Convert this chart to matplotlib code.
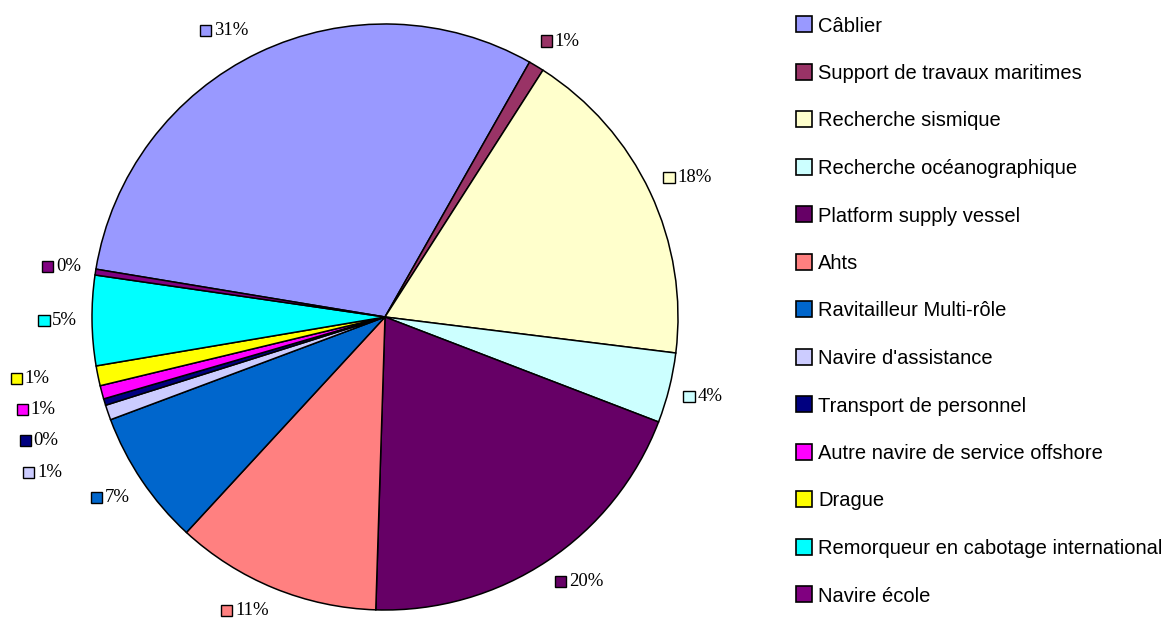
import numpy as np
import matplotlib
matplotlib.use("Agg")
import matplotlib.pyplot as plt
from matplotlib.patches import Rectangle
from matplotlib.offsetbox import DrawingArea, TextArea, HPacker, AnnotationBbox

categories = [
    "Câblier",
    "Support de travaux maritimes",
    "Recherche sismique",
    "Recherche océanographique",
    "Platform supply vessel",
    "Ahts",
    "Ravitailleur Multi-rôle",
    "Navire d'assistance",
    "Transport de personnel",
    "Autre navire de service offshore",
    "Drague",
    "Remorqueur en cabotage international",
    "Navire école",
]
shares = [30.6, 0.85, 17.9, 3.87, 19.67, 11.35, 7.45, 0.83, 0.36, 0.74, 1.10, 4.96, 0.32]
colors = ["#9999FF", "#993366", "#FFFFCC", "#CCFFFF", "#660066", "#FF8080",
          "#0066CC", "#CCCCFF", "#000080", "#FF00FF", "#FFFF00", "#00FFFF", "#800080"]

W, H = 1166, 618
fig = plt.figure(figsize=(W / 100, H / 100), dpi=100)
ax = fig.add_axes([0, 0, 1, 1])

CX, CY, R = 385, H - 317, 293
start = 170.6
wedges, _ = ax.pie(shares, colors=colors, startangle=start, counterclock=False,
                   center=(CX, CY), radius=R,
                   wedgeprops=dict(edgecolor="black", linewidth=1.1))
ax.set_xlim(0, W)
ax.set_ylim(0, H)
ax.set_aspect("equal")
ax.axis("off")

# percentage labels
total = sum(shares)
nudge = {0: (-4, 0), 1: (-3, 4), 7: (-32, -48), 8: (-32, -28), 9: (-32, -8), 10: (-34, 5)}
for i, w in enumerate(wedges):
    mid = np.deg2rad((w.theta1 + w.theta2) / 2)
    px = CX + 1.05 * R * np.cos(mid)
    py = CY + 1.05 * R * np.sin(mid)
    c, s = np.cos(mid), np.sin(mid)
    bx = 0.0 if c > 0 else 1.0
    by = 0.5 - 0.5 * np.clip(s / 0.4, -1, 1)
    if i in nudge:
        px += nudge[i][0]
        py += nudge[i][1]
    da = DrawingArea(8, 8, 0, 0)
    da.add_artist(Rectangle((0, 0), 8, 8, facecolor=colors[i], edgecolor="black", linewidth=1.0))
    ta = TextArea(f"{round(shares[i] / total * 100):.0f}%",
                  textprops=dict(family=["Liberation Serif", "DejaVu Serif"], fontsize=13.5, color="black"))
    box = HPacker(children=[da, ta], align="center", pad=0, sep=2)
    ab = AnnotationBbox(box, (px, py), xycoords="data", box_alignment=(bx, by),
                        frameon=False, pad=0, annotation_clip=False)
    ax.add_artist(ab)

# legend
LX, LY0, PITCH, SQ = 796, 24, 47.5, 16
for i, (lab, col) in enumerate(zip(categories, colors)):
    yc = H - (LY0 + i * PITCH)
    ax.add_patch(Rectangle((LX, yc - SQ / 2), SQ, SQ, facecolor=col, edgecolor="black",
                           linewidth=1.2, clip_on=False))
    ax.text(LX + SQ + 6, yc, lab, ha="left", va="center_baseline",
            family=["Liberation Sans", "DejaVu Sans"],
            fontsize=14.5, color="black")

fig.savefig("out.png", dpi=100, facecolor="white")
